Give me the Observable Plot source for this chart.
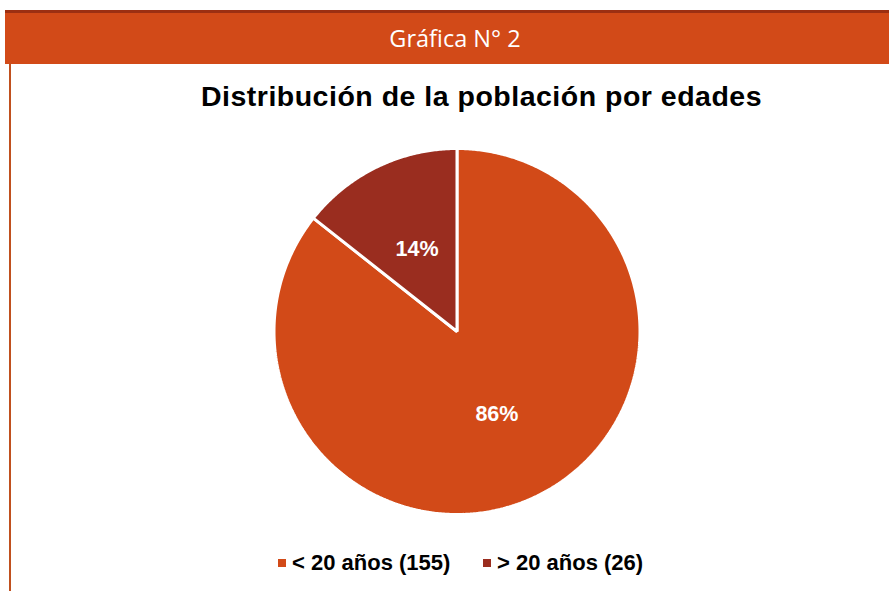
<!DOCTYPE html>
<html>
<head>
<meta charset="utf-8">
<script src="https://cdn.jsdelivr.net/npm/d3@7"></script>
<script src="https://cdn.jsdelivr.net/npm/@observablehq/plot@0.6"></script>
<style>
  html, body { margin: 0; padding: 0; background: #ffffff; }
  #wrap { position: relative; width: 889px; height: 591px; overflow: hidden; background: #fff; }
  #header { position: absolute; left: 5px; top: 10px; width: 884px; height: 51px;
    background: #d24a18; border-top: 3px solid #9c2f12; box-sizing: content-box;
    color: #fff; font-family: "Open Sans", "Noto Sans", sans-serif; font-size: 23.5px;
    line-height: 51px; text-align: center; }
  #header span { position: relative; left: 8px; }
  #leftline { position: absolute; left: 9px; top: 63px; width: 2px; height: 528px; background: #c0501e; }
  #title { position: absolute; left: 0; width: 889px; top: 80px; text-align: center;
    font-family: "Liberation Sans", Arial, sans-serif; font-weight: bold; font-size: 28.5px;
    letter-spacing: 0.5px; color: #000; }
  #title span { position: relative; left: 37px; }
  #plot { position: absolute; left: 0; top: 0; }
  #legend { position: absolute; top: 549px; left: 0; width: 889px; height: 28px;
    font-family: "Liberation Sans", Arial, sans-serif; font-weight: bold; font-size: 22px; color: #000; }
  .item { position: absolute; top: 0; white-space: nowrap; line-height: 28px; }
  .sw { display: inline-block; width: 8px; height: 8px; margin-right: 6px; vertical-align: middle; position: relative; top: -1px; }
</style>
</head>
<body>
<div id="wrap">
  <div id="header"><span>Gráfica N° 2</span></div>
  <div id="leftline"></div>
  <div id="title"><span>Distribución de la población por edades</span></div>
  <div id="plot"></div>
  <div id="legend"></div>
</div>
<script>
const categories = ["< 20 años", "> 20 años"];
const counts = [155, 26];
const percentLabels = ["86%", "14%"];
const colors = ["#d24a18", "#9a2d1f"];

const pie = d3.pie().sort(null).value(d => d.count)(
  categories.map((c, i) => ({category: c, count: counts[i], pct: percentLabels[i]}))
);

// polygon vertices for each slice, from the pie angles (clockwise from 12 o'clock)
const pts = [];
pie.forEach(s => {
  const name = s.data.category;
  pts.push({slice: name, x: 0, y: 0});
  const n = Math.max(4, Math.ceil((s.endAngle - s.startAngle) / (Math.PI / 360)));
  for (let k = 0; k <= n; k++) {
    const a = s.startAngle + (s.endAngle - s.startAngle) * k / n;
    pts.push({slice: name, x: Math.sin(a), y: Math.cos(a)});
  }
});
const labelPts = pie.map(s => {
  const a = (s.startAngle + s.endAngle) / 2;
  return {slice: s.data.category, text: s.data.pct, x: 0.5 * Math.sin(a), y: 0.5 * Math.cos(a)};
});

const chart = Plot.plot({
  width: 889,
  height: 591,
  marginLeft: 273.5,
  marginRight: 249.5,
  marginTop: 148,
  marginBottom: 77,
  x: {domain: [-1, 1], axis: null},
  y: {domain: [-1, 1], axis: null},
  color: {domain: categories, range: colors},
  style: {background: "transparent", overflow: "visible"},
  marks: [
    Plot.line(pts, {x: "x", y: "y", z: "slice", fill: "slice", stroke: "#ffffff", strokeWidth: 3,
      curve: "linear-closed", strokeLinejoin: "miter"}),
    Plot.text(labelPts, {x: "x", y: "y", text: "text", fill: "#ffffff", fontSize: 21.5, fontWeight: "bold",
      fontFamily: "Liberation Sans, Arial, sans-serif"})
  ]
});
document.getElementById("plot").appendChild(chart);

const legend = document.getElementById("legend");
const lefts = [278, 483];
categories.forEach((c, i) => {
  const it = document.createElement("div");
  it.className = "item";
  it.style.left = lefts[i] + "px";
  const sw = document.createElement("span");
  sw.className = "sw";
  sw.style.background = colors[i];
  it.appendChild(sw);
  it.appendChild(document.createTextNode(`${c} (${counts[i]})`));
  legend.appendChild(it);
});
</script>
</body>
</html>
